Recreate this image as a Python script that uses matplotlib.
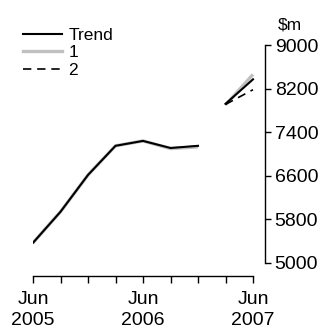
import matplotlib
matplotlib.use("Agg")
import matplotlib.pyplot as plt
import numpy as np

plt.rcParams['font.family'] = ['Liberation Sans', 'DejaVu Sans']

quarters = ["Jun 2005", "Sep 2005", "Dec 2005", "Mar 2006", "Jun 2006",
            "Sep 2006", "Dec 2006", "Mar 2007", "Jun 2007"]
tick_labels = ["Jun\n2005", "", "", "", "Jun\n2006", "", "", "", "Jun\n2007"]
y_ticks = [5000, 5800, 6600, 7400, 8200, 9000]

# first segment (Jun 2005 - Dec 2006), second segment (Mar 2007 - Jun 2007)
trend_a = [5370, 5940, 6615, 7150, 7240, 7110, 7150]
trend_b = [7920, 8370]
series1_a = [5370, 5940, 6615, 7150, 7240, 7100, 7130]
series1_b = [7900, 8460]
series2_b = [7910, 8180]

xa = np.arange(len(trend_a))
xb = np.arange(len(trend_a), len(quarters))

fig = plt.figure(figsize=(3.28, 3.29), dpi=100)
ax = fig.add_axes([33/328, 53/329, 232/328, 231/329])

dash = (0, (5, 3.5))
ax.plot(xa, series1_a, color='#c0c0c0', lw=2.4, solid_capstyle='butt')
ax.plot(xb, series1_b, color='#c0c0c0', lw=2.4, solid_capstyle='butt')
ax.plot(xa, trend_a, color='black', lw=1.5, label='Trend')
ax.plot(xb, trend_b, color='black', lw=1.5)
ax.plot(xb, series2_b, color='black', lw=1.2, ls=dash)

ax.set_xlim(0, 8.436)
ax.set_ylim(4761, 9000)

for s in ['top', 'left']:
    ax.spines[s].set_visible(False)
ax.spines['bottom'].set_bounds(0, 8)
ax.spines['right'].set_bounds(5000, 9000)
ax.spines['bottom'].set_linewidth(1.0)
ax.spines['right'].set_linewidth(1.0)

ax.yaxis.tick_right()
ax.set_yticks(y_ticks)
ax.set_yticklabels([str(v) for v in y_ticks], fontsize=14)
ax.tick_params(axis='y', direction='out', length=4, width=1.0, pad=3)
ax.set_xticks(np.arange(len(quarters)))
ax.set_xticklabels(tick_labels, fontsize=14, linespacing=1.25)
ax.tick_params(axis='x', direction='out', length=5, width=1.0, pad=6)

fig.text(278/328, 1 - 25/329, "$m", fontsize=12.5, va='center', ha='left')

from matplotlib.lines import Line2D
handles = [Line2D([], [], color='black', lw=1.5),
           Line2D([], [], color='#c0c0c0', lw=2.4),
           Line2D([], [], color='black', lw=1.2, ls=dash)]
fig.legend(handles, ['Trend', '1', '2'], loc='upper left',
           bbox_to_anchor=(23/328, 1 - 28/329), frameon=False,
           fontsize=12.5, handlelength=2.25, handletextpad=0.35,
           labelspacing=0.12, borderpad=0, borderaxespad=0)

fig.savefig("out.png", dpi=100)
